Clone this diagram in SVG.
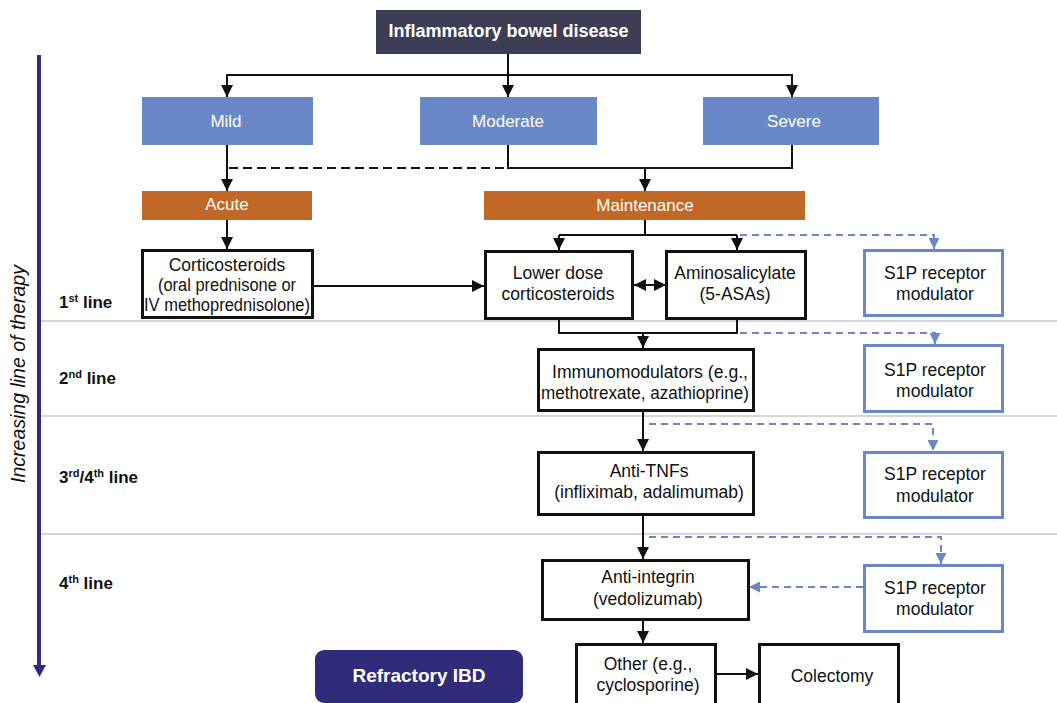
<svg xmlns="http://www.w3.org/2000/svg" width="1057" height="703" viewBox="0 0 1057 703">
<style>
text{font-family:"Liberation Sans",Arial,sans-serif;}
.wt{fill:#fff;font-size:17px;text-anchor:middle;}
.nt{fill:#111;font-size:17.5px;text-anchor:middle;}
.box{fill:#fff;stroke:#111;stroke-width:3;}
.s1p{fill:#fff;stroke:#6a88c8;stroke-width:3;}
.blue{fill:#6a88c8;}
.org{fill:#c16828;}
.ln{fill:none;stroke:#111;stroke-width:2;}
.bd{fill:none;stroke:#6a88c8;stroke-width:2;stroke-dasharray:7,5;}
.kd{fill:none;stroke:#111;stroke-width:2;stroke-dasharray:9,5;}
.lab{fill:#111;font-size:17px;font-weight:bold;}
.sep{stroke:#c8c8c8;stroke-width:1.5;}
</style>
<defs>
<marker id="ah" markerUnits="userSpaceOnUse" markerWidth="12" markerHeight="12" refX="12" refY="6" orient="auto-start-reverse"><path d="M0,0 L12,6 L0,12 z" fill="#111"/></marker>
<marker id="bh" markerUnits="userSpaceOnUse" markerWidth="11" markerHeight="11" refX="11" refY="5.5" orient="auto"><path d="M0,0 L11,5.5 L0,11 z" fill="#6a88c8"/></marker>
</defs>
<rect width="1057" height="703" fill="#fff"/>
<g id="separators">
<line class="sep" x1="41" y1="321" x2="1057" y2="321"/>
<line class="sep" x1="41" y1="416" x2="1057" y2="416"/>
<line class="sep" x1="41" y1="534" x2="1057" y2="534"/>
</g>
<g id="axis">
<line x1="39" y1="55" x2="39" y2="667" stroke="#302c7c" stroke-width="4"/>
<polygon points="33,665 46,665 39.5,677" fill="#302c7c"/>
<text transform="translate(25,374) rotate(-90)" text-anchor="middle" font-size="19.5" font-style="italic" fill="#111">Increasing line of therapy</text>
</g>
<g id="line-labels">
<text class="lab" x="59" y="308">1<tspan font-size="11" dy="-6">st</tspan><tspan dy="6"> line</tspan></text>
<text class="lab" x="59" y="384">2<tspan font-size="11" dy="-6">nd</tspan><tspan dy="6"> line</tspan></text>
<text class="lab" x="59" y="483">3<tspan font-size="11" dy="-6">rd</tspan><tspan dy="6">/4</tspan><tspan font-size="11" dy="-6">th</tspan><tspan dy="6"> line</tspan></text>
<text class="lab" x="59" y="589">4<tspan font-size="11" dy="-6">th</tspan><tspan dy="6"> line</tspan></text>
</g>
<g id="connectors">
<path class="ln" d="M508,54 V97" marker-end="url(#ah)"/>
<path class="ln" d="M227,97 V75 H792 V97" />
<path class="ln" d="M227,75 V97" marker-end="url(#ah)"/>
<path class="ln" d="M792,75 V97" marker-end="url(#ah)"/>
<path class="ln" d="M227,145 V191" marker-end="url(#ah)"/>
<path class="kd" d="M229,168 H508"/>
<path class="ln" d="M508,145 V168 H792 V145"/>
<path class="ln" d="M645,168 V191" marker-end="url(#ah)"/>
<path class="ln" d="M227,220 V249" marker-end="url(#ah)"/>
<path class="ln" d="M314,286 H484" marker-end="url(#ah)"/>
<path class="ln" d="M645,220 V235"/>
<path class="ln" d="M559,235 H737"/>
<path class="ln" d="M559,235 V250" marker-end="url(#ah)"/>
<path class="ln" d="M737,235 V250" marker-end="url(#ah)"/>
<path class="bd" d="M740,235 H934 V249" marker-end="url(#bh)"/>
<path class="ln" d="M634,285 H666" marker-start="url(#ah)" marker-end="url(#ah)"/>
<path class="ln" d="M559,319 V333 H737 V319"/>
<path class="ln" d="M643,333 V348" marker-end="url(#ah)"/>
<path class="bd" d="M740,333 H935 V344" marker-end="url(#bh)"/>
<path class="ln" d="M643,412 V451" marker-end="url(#ah)"/>
<path class="bd" d="M649,424 H933 V451" marker-end="url(#bh)"/>
<path class="ln" d="M643,516 V559" marker-end="url(#ah)"/>
<path class="bd" d="M649,537 H941 V564" marker-end="url(#bh)"/>
<path class="bd" d="M863,587 H749" marker-end="url(#bh)"/>
<path class="ln" d="M643,621 V643" marker-end="url(#ah)"/>
<path class="ln" d="M717,674 H758" marker-end="url(#ah)"/>
</g>
<g id="ibd">
<rect x="376" y="10" width="265" height="44" fill="#3d3e56"/>
<text x="508.5" y="37" fill="#fff" font-size="18" font-weight="bold" text-anchor="middle">Inflammatory bowel disease</text>
</g>
<g id="mild"><rect class="blue" x="142" y="97" width="171" height="48"/><text class="wt" x="226" y="127">Mild</text></g>
<g id="moderate"><rect class="blue" x="420" y="97" width="177" height="48"/><text class="wt" x="508" y="127">Moderate</text></g>
<g id="severe"><rect class="blue" x="703" y="97" width="176" height="48"/><text class="wt" x="794" y="127">Severe</text></g>
<g id="acute"><rect class="org" x="142" y="191" width="170" height="29"/><text class="wt" x="227" y="210">Acute</text></g>
<g id="maintenance"><rect class="org" x="484" y="191" width="321" height="29"/><text class="wt" x="645" y="211">Maintenance</text></g>
<g id="corticosteroids"><rect class="box" x="142.5" y="250.5" width="170" height="67"/>
<text class="nt" font-size="16" x="227" y="271">Corticosteroids</text>
<text class="nt" font-size="16" x="227" y="291" textLength="138" lengthAdjust="spacingAndGlyphs">(oral prednisone or</text>
<text class="nt" font-size="16" x="227" y="311" textLength="166" lengthAdjust="spacingAndGlyphs">IV methoprednisolone)</text></g>
<g id="lower-dose"><rect class="box" x="485.5" y="251.5" width="147" height="67"/>
<text class="nt" x="558" y="279">Lower dose</text><text class="nt" x="558" y="300">corticosteroids</text></g>
<g id="aminosalicylate"><rect class="box" x="666.5" y="251.5" width="139" height="67"/>
<text class="nt" x="735" y="279">Aminosalicylate</text><text class="nt" x="735" y="300">(5-ASAs)</text></g>
<g id="s1p-1"><rect class="s1p" x="864.5" y="250.5" width="138" height="65"/>
<text class="nt" x="935" y="279">S1P receptor</text><text class="nt" x="935" y="300">modulator</text></g>
<g id="immunomodulators"><rect class="box" x="538.5" y="349.5" width="215" height="61"/>
<text class="nt" x="650" y="378" textLength="196" lengthAdjust="spacingAndGlyphs">Immunomodulators (e.g.,</text><text class="nt" x="645" y="399" textLength="208" lengthAdjust="spacingAndGlyphs">methotrexate, azathioprine)</text></g>
<g id="s1p-2"><rect class="s1p" x="864.5" y="345.5" width="138" height="66"/>
<text class="nt" x="935" y="376">S1P receptor</text><text class="nt" x="935" y="397">modulator</text></g>
<g id="anti-tnfs"><rect class="box" x="538.5" y="452.5" width="215" height="62"/>
<text class="nt" x="649" y="477">Anti-TNFs</text><text class="nt" x="649" y="498">(infliximab, adalimumab)</text></g>
<g id="s1p-3"><rect class="s1p" x="864.5" y="452.5" width="138" height="65"/>
<text class="nt" x="935" y="480">S1P receptor</text><text class="nt" x="935" y="502">modulator</text></g>
<g id="anti-integrin"><rect class="box" x="542.5" y="560.5" width="206" height="59"/>
<text class="nt" x="648" y="583">Anti-integrin</text><text class="nt" x="648" y="605">(vedolizumab)</text></g>
<g id="s1p-4"><rect class="s1p" x="864.5" y="565.5" width="138" height="66"/>
<text class="nt" x="935" y="594">S1P receptor</text><text class="nt" x="935" y="615">modulator</text></g>
<g id="other"><rect class="box" x="576.5" y="644.5" width="139" height="70"/>
<text class="nt" x="648" y="670">Other (e.g.,</text><text class="nt" x="648" y="691">cyclosporine)</text></g>
<g id="colectomy"><rect class="box" x="759.5" y="644.5" width="139" height="70"/>
<text class="nt" x="832" y="682">Colectomy</text></g>
<g id="refractory"><rect x="315" y="650" width="208" height="53" rx="9" fill="#312c7a"/>
<text x="419" y="682" fill="#fff" font-size="19" font-weight="bold" text-anchor="middle">Refractory IBD</text></g>
</svg>
